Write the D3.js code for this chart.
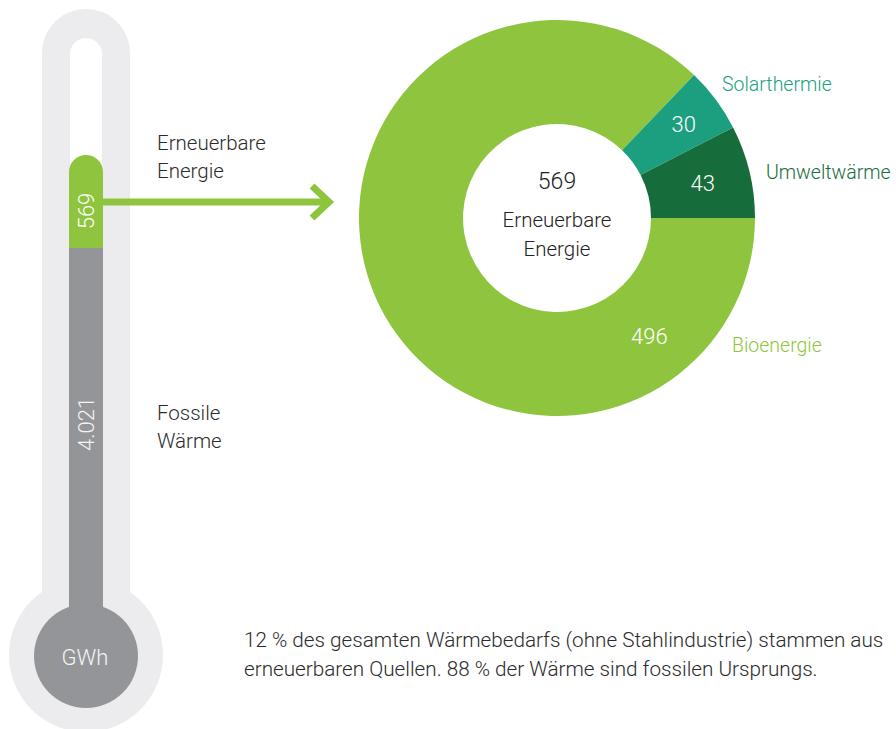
<!DOCTYPE html>
<html>
<head>
<meta charset="utf-8">
<script src="https://cdn.jsdelivr.net/npm/d3@7"></script>
<style>
  html, body { margin: 0; padding: 0; background: #fff; }
  svg text { font-family: Roboto, "Noto Sans", sans-serif; font-weight: 300; }
</style>
</head>
<body>
<svg id="chart" width="896" height="729"></svg>
<script>
// data (GWh)
var segments = ['Bioenergie', 'Solarthermie', 'Umweltwärme'];
var segmentValues = [496, 30, 43];
var segmentColors = ['#8fc53e', '#1b9f7e', '#166c3a'];
var totalRenewable = 569;
var totalFossil = 4021;
var thermoLabels = ['Erneuerbare Energie', 'Fossile Wärme'];
var footnote = ['12 % des gesamten Wärmebedarfs (ohne Stahlindustrie) stammen aus',
                'erneuerbaren Quellen. 88 % der Wärme sind fossilen Ursprungs.'];

var fmt = d3.formatLocale({decimal: ',', thousands: '.', grouping: [3], currency: ['', '€']}).format(',');

var svg = d3.select('#chart');

// ---- thermometer ----
var tx = 86;
var lightGray = '#ececee', gray = '#939598', green = '#8fc53e';

// outer light gray tube + bulb
svg.append('rect').attr('x', tx - 44).attr('y', 9).attr('width', 88).attr('height', 640)
  .attr('rx', 44).attr('fill', lightGray);
svg.append('circle').attr('cx', tx).attr('cy', 655).attr('r', 77).attr('fill', lightGray);
// inner white
svg.append('rect').attr('x', tx - 16).attr('y', 38).attr('width', 32).attr('height', 200)
  .attr('rx', 16).attr('fill', '#fff');

// column: green (renewable) above gray (fossil)
var colTop = 155, colSplit = 248, colBottom = 620;
svg.append('rect').attr('x', tx - 17).attr('y', colTop).attr('width', 34).attr('height', colSplit - colTop + 20)
  .attr('rx', 17).attr('fill', green);
svg.append('rect').attr('x', tx - 17).attr('y', colSplit).attr('width', 34).attr('height', colBottom - colSplit)
  .attr('fill', gray);
svg.append('circle').attr('cx', tx).attr('cy', 656).attr('r', 52).attr('fill', gray);

svg.append('text').attr('transform', 'translate(' + (tx + 8) + ',211) rotate(-90)')
  .attr('text-anchor', 'middle').attr('fill', '#fff').attr('font-size', 22)
  .text(fmt(totalRenewable));
svg.append('text').attr('transform', 'translate(' + (tx + 8) + ',424) rotate(-90)')
  .attr('text-anchor', 'middle').attr('fill', '#f4f4f4').attr('font-size', 22)
  .text(fmt(totalFossil));
svg.append('text').attr('x', tx - 1).attr('y', 665)
  .attr('text-anchor', 'middle').attr('fill', '#f4f4f4').attr('font-size', 22)
  .text('GWh');

// labels next to thermometer
[[thermoLabels[0], 150], [thermoLabels[1], 420]].forEach(function (d) {
  var t = svg.append('text').attr('x', 157).attr('y', d[1]).attr('fill', '#2b2b2b').attr('font-size', 20.5);
  d[0].split(' ').forEach(function (w, i) {
    t.append('tspan').attr('x', 157).attr('dy', i ? 28 : 0).text(w);
  });
});

// arrow
svg.append('line').attr('x1', tx + 17).attr('x2', 329).attr('y1', 202).attr('y2', 202)
  .attr('stroke', green).attr('stroke-width', 7);
svg.append('polyline').attr('points', '312,186 329,202 312,218')
  .attr('fill', 'none').attr('stroke', green).attr('stroke-width', 7).attr('stroke-linejoin', 'miter');

// ---- donut ----
var cx = 557, cy = 218, rOuter = 198, rInner = 94;
var pie = d3.pie().sort(null).startAngle(Math.PI / 2).endAngle(Math.PI / 2 + 2 * Math.PI);
var arcs = pie(segmentValues);
var arc = d3.arc().innerRadius(rInner).outerRadius(rOuter);
var g = svg.append('g').attr('transform', 'translate(' + cx + ',' + cy + ')');

g.selectAll('path').data(arcs).enter().append('path')
  .attr('d', arc).attr('fill', function (d, i) { return segmentColors[i]; });

// value labels inside the ring
var valueAngle = [142 * Math.PI / 180, null, null];
var valueRadius = [150, 158, 150];
g.selectAll('text.val').data(arcs).enter().append('text')
  .attr('class', 'val')
  .attr('transform', function (d, i) {
    var a = valueAngle[i] != null ? valueAngle[i] : (d.startAngle + d.endAngle) / 2;
    var r = valueRadius[i];
    return 'translate(' + (r * Math.sin(a)) + ',' + (-r * Math.cos(a) + 8) + ')';
  })
  .attr('text-anchor', 'middle').attr('fill', '#fff').attr('font-size', 22)
  .text(function (d) { return fmt(d.value); });

// category labels outside the ring
var namePos = [[732, 352], [722, 91], [766, 179]];
svg.selectAll('text.name').data(segments).enter().append('text')
  .attr('class', 'name')
  .attr('x', function (d, i) { return namePos[i][0]; })
  .attr('y', function (d, i) { return namePos[i][1]; })
  .attr('fill', function (d, i) { return segmentColors[i]; })
  .attr('font-size', 19.5)
  .text(function (d) { return d; });

// centre text
g.append('text').attr('y', -29).attr('text-anchor', 'middle').attr('fill', '#222').attr('font-size', 23)
  .text(fmt(d3.sum(segmentValues)));
var ct = g.append('text').attr('y', 9).attr('text-anchor', 'middle').attr('fill', '#222').attr('font-size', 20.5);
thermoLabels[0].split(' ').forEach(function (w, i) {
  ct.append('tspan').attr('x', 0).attr('dy', i ? 29 : 0).text(w);
});

// ---- footnote ----
footnote.forEach(function (line, i) {
  svg.append('text').attr('x', 244).attr('y', 647 + i * 29).attr('fill', '#2b2b2b').attr('font-size', 20.7)
    .text(line);
});
</script>
</body>
</html>
